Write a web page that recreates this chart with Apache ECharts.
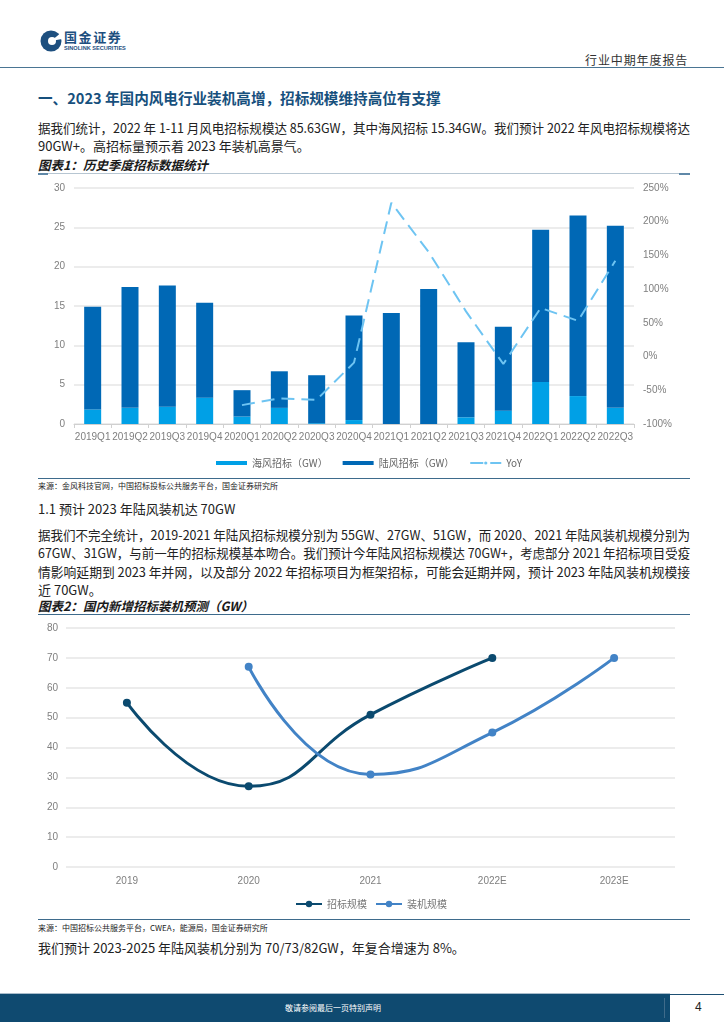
<!DOCTYPE html>
<html><head><meta charset="utf-8">
<script src="https://cdn.jsdelivr.net/npm/echarts@6/dist/echarts.min.js"></script>
<style>
body{margin:0;width:724px;height:1024px;position:relative;background:#fff;font-family:"Noto Sans CJK SC";overflow:hidden}
.t{position:absolute;white-space:nowrap;color:#222}
.jl{position:absolute;left:38px;width:652px;white-space:nowrap;text-align:justify;text-align-last:justify;font-size:13px;line-height:18px;color:#222;font-family:"Liberation Sans Narrow","Noto Sans CJK SC";transform-origin:0 0}
.jl.last{text-align-last:left}
.ln{position:absolute;height:0}
</style></head>
<body>
<!-- header -->
<svg style="position:absolute;left:40px;top:30px" width="22" height="22" viewBox="0 0 22 22">
<circle cx="11" cy="11" r="10.5" fill="#1d4f7f"/>
<path d="M11 11 L22 2 L22 9 Z" fill="#fff"/>
<circle cx="12" cy="11" r="4" fill="#fff"/>
</svg>
<div class="t" style="left:64px;top:30px;font-size:13px;font-weight:bold;color:#1d4f7f;letter-spacing:1.6px;line-height:14px">国金证券</div>
<div class="t" style="left:64px;top:44.5px;font-size:5.6px;font-weight:bold;color:#1d4f7f;line-height:6px;font-family:'Liberation Sans'">SINOLINK SECURITIES</div>
<div class="t" style="left:585px;top:52px;font-size:12px;letter-spacing:0.9px;color:#333;line-height:15px">行业中期年度报告</div>
<div class="ln" style="left:0;top:67px;width:724px;border-top:1.5px solid #4a7593"></div>

<div class="t" style="left:38px;top:88px;font-size:14.6px;font-weight:bold;color:#17507d;line-height:20px">一、2023 年国内风电行业装机高增，招标规模维持高位有支撑</div>

<div class="jl" style="top:119px">据我们统计，2022 年 1-11 月风电招标规模达 85.63GW，其中海风招标 15.34GW。我们预计 2022 年风电招标规模将达</div>
<div class="jl last" style="top:137px">90GW+。高招标量预示着 2023 年装机高景气。</div>

<div class="t" style="left:38px;top:156px;font-size:12.5px;font-weight:bold;font-style:italic;line-height:17px;color:#1a1a1a">图表1：历史季度招标数据统计</div>
<div class="ln" style="left:38px;top:173px;width:652px;border-top:1px solid #b7c6d2"></div>
<div class="ln" style="left:38px;top:173px;width:10px;border-top:2px solid #5f88a8"></div>
<div class="ln" style="left:679px;top:173px;width:11px;border-top:2px solid #5f88a8"></div>

<div id="c1" style="position:absolute;left:0;top:175px;width:724px;height:300px"></div>
<div class="ln" style="left:38px;top:478px;width:652px;border-top:1.5px solid #3e6b8c"></div>
<div class="t" style="left:38px;top:481px;font-size:8px;line-height:10px">来源：金风科技官网，中国招标投标公共服务平台，国金证券研究所</div>

<div class="t" style="left:38px;top:500px;font-size:13px;line-height:18px;font-family:'Liberation Sans Narrow','Noto Sans CJK SC'">1.1 预计 2023 年陆风装机达 70GW</div>

<div class="jl" style="top:526px">据我们不完全统计，2019-2021 年陆风招标规模分别为 55GW、27GW、51GW，而 2020、2021 年陆风装机规模分别为</div>
<div class="jl" style="top:544px">67GW、31GW，与前一年的招标规模基本吻合。我们预计今年陆风招标规模达 70GW+，考虑部分 2021 年招标项目受疫</div>
<div class="jl" style="top:563px">情影响延期到 2023 年并网，以及部分 2022 年招标项目为框架招标，可能会延期并网，预计 2023 年陆风装机规模接</div>
<div class="jl last" style="top:581px">近 70GW。</div>

<div class="t" style="left:38px;top:597px;font-size:12.5px;font-weight:bold;font-style:italic;line-height:17px;color:#1a1a1a">图表2：国内新增招标装机预测（GW）</div>
<div class="ln" style="left:38px;top:614px;width:652px;border-top:1.5px solid #3e6b8c"></div>

<div id="c2" style="position:absolute;left:0;top:616px;width:724px;height:300px"></div>
<div class="ln" style="left:38px;top:919px;width:652px;border-top:1.5px solid #3e6b8c"></div>
<div class="t" style="left:38px;top:923px;font-size:8px;line-height:10px">来源：中国招标公共服务平台，CWEA，能源局，国金证券研究所</div>
<div class="jl last" style="top:939px">我们预计 2023-2025 年陆风装机分别为 70/73/82GW，年复合增速为 8%。</div>

<!-- footer -->
<div style="position:absolute;left:0;top:994px;width:670px;height:28px;background:#0f4a70"></div>
<div class="ln" style="left:0;top:993px;width:670px;border-top:1px solid #a9bccb"></div>
<div class="ln" style="left:670px;top:994px;width:54px;border-top:1.5px solid #1d4f73"></div>
<div style="position:absolute;left:664px;top:998px;width:1px;height:20px;background:#3f6b8a"></div>
<div class="t" style="left:0;width:666px;text-align:center;top:1003px;font-size:8px;line-height:10px;color:#fff">敬请参阅最后一页特别声明</div>
<div class="t" style="left:695px;top:1000px;font-size:12px;line-height:14px;font-family:'Liberation Sans';color:#222">4</div>

<script>
// ---- Chart 1 data ----
const quarters = ['2019Q1','2019Q2','2019Q3','2019Q4','2020Q1','2020Q2','2020Q3','2020Q4','2021Q1','2021Q2','2021Q3','2021Q4','2022Q1','2022Q2','2022Q3'];
const offshoreGW = [1.85,2.05,2.2,3.35,0.95,2.05,0.1,0.5,0,0,0.85,1.7,5.35,3.55,2.05];
const onshoreGW  = [13.05,15.35,15.4,12.05,3.35,4.65,6.1,13.3,14.1,17.15,9.55,10.65,19.35,22.95,23.15];
const yoyPct     = [null,null,null,null,-72,-62,-64,-9,228,155,67,-11,72,53,142];
const leftTicks  = {min:0,max:30,interval:5};
const rightTicks = {min:-100,max:250,interval:50};

// ---- Chart 2 data ----
const years = ['2019','2020','2021','2022E','2023E'];
const tenderGW  = [55,27,51,70,null];
const installGW = [null,67,31,45,70];
const c2Ticks = {min:0,max:80,interval:10};

// fit justified lines
document.querySelectorAll('.jl').forEach(el=>{
  const w = 652, sw = el.scrollWidth;
  if (sw > w + 0.5) { el.style.width = sw + 'px'; el.style.transform = 'scaleX(' + (w/sw) + ')'; }
});

const axisTxt = {color:'#7f7f7f',fontSize:10,fontFamily:'Liberation Sans'};
const c1 = echarts.init(document.getElementById('c1'));
c1.setOption({
  animation:false,
  grid:{left:74,right:90,top:13,bottom:51},
  legend:{left:211,top:278,itemWidth:31,itemHeight:4,itemGap:15,
    textStyle:{color:'#666',fontSize:10,fontFamily:'Noto Sans CJK SC'},
    data:[{name:'海风招标（GW）',icon:'rect'},{name:'陆风招标（GW）',icon:'rect'},{name:'YoY'}]},
  xAxis:{type:'category',data:quarters,
    axisLine:{lineStyle:{color:'#d0d0d0'}},
    axisTick:{show:true,length:4,lineStyle:{color:'#d0d0d0'}},
    axisLabel:Object.assign({margin:8,interval:0},axisTxt)},
  yAxis:[
    Object.assign({type:'value',axisLine:{show:false},axisTick:{show:false},
      axisLabel:Object.assign({margin:9},axisTxt),
      splitLine:{lineStyle:{color:'#e6e6e6',width:1.5}}},leftTicks),
    Object.assign({type:'value',axisLine:{show:false},axisTick:{show:false},
      axisLabel:Object.assign({margin:9,formatter:'{value}%'},axisTxt),
      splitLine:{show:false}},rightTicks)
  ],
  series:[
    {name:'海风招标（GW）',type:'bar',stack:'q',barWidth:17,data:offshoreGW,itemStyle:{color:'#00a0e6'}},
    {name:'陆风招标（GW）',type:'bar',stack:'q',barWidth:17,data:onshoreGW,itemStyle:{color:'#0068b5'}},
    {name:'YoY',type:'line',yAxisIndex:1,data:yoyPct,symbol:'none',
      lineStyle:{color:'#6ec4f2',width:2,type:[13,7]},itemStyle:{color:'#6ec4f2'}}
  ]
});

const c2 = echarts.init(document.getElementById('c2'));
c2.setOption({
  animation:false,
  grid:{left:66,right:49,top:12,bottom:49},
  legend:{left:290,top:278,itemWidth:26,itemHeight:8,itemGap:8,
    textStyle:{color:'#777',fontSize:10,fontFamily:'Noto Sans CJK SC'}},
  xAxis:{type:'category',data:years,axisLine:{show:false},axisTick:{show:false},
    axisLabel:Object.assign({margin:9},axisTxt)},
  yAxis:Object.assign({type:'value',axisLine:{show:false},axisTick:{show:false},
    axisLabel:Object.assign({margin:8},axisTxt),
    splitLine:{lineStyle:{color:'#e6e6e6',width:1.5}}},c2Ticks),
  series:[
    {name:'招标规模',type:'line',smooth:true,data:tenderGW,symbol:'circle',symbolSize:8,
      lineStyle:{color:'#0b4a6f',width:3},itemStyle:{color:'#0b4a6f'}},
    {name:'装机规模',type:'line',smooth:true,data:installGW,symbol:'circle',symbolSize:8,
      lineStyle:{color:'#4283c6',width:3},itemStyle:{color:'#4283c6'}}
  ]
});
</script>
</body></html>
